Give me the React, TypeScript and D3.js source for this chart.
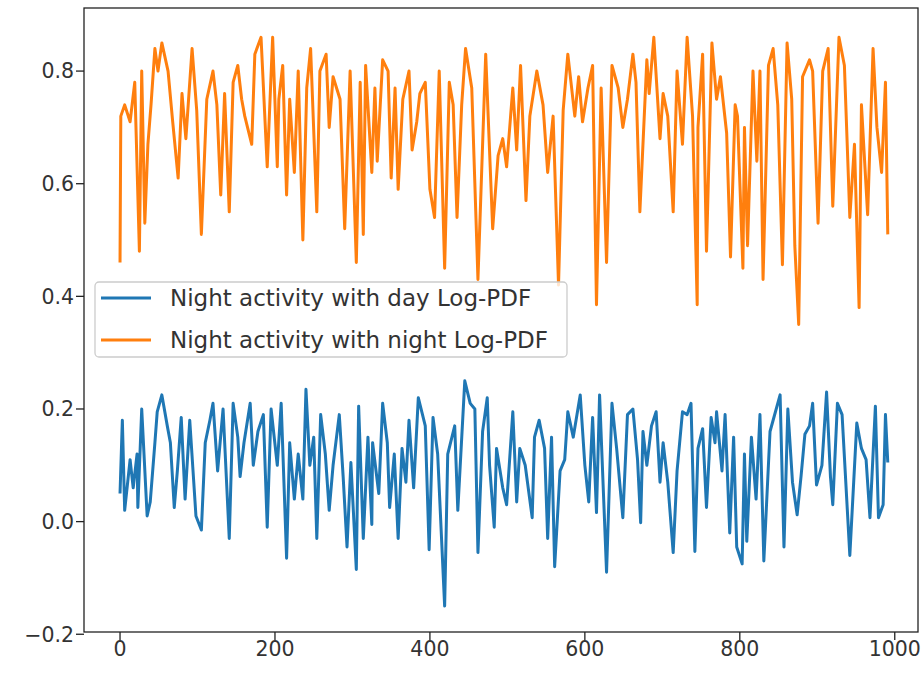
import React from "react";
import * as d3 from "d3";

const dayX = [0,3,6,13,17,22,23,28,35,39,45,48,54,61,65,70,74,79,84,90,98,105,110,116,120,126,133,141,146,152,155,160,168,172,178,185,190,195,203,208,215,219,225,230,236,240,245,250,254,259,265,270,275,283,288,293,298,305,308,314,320,325,326,334,339,345,348,354,359,364,369,373,379,385,394,399,404,410,419,423,432,436,445,452,458,462,468,474,477,483,486,494,499,507,512,516,523,532,535,541,548,552,557,561,568,574,578,585,594,600,605,610,615,619,628,635,641,649,655,662,668,672,675,680,686,692,697,701,707,714,719,726,732,737,742,746,752,757,763,768,770,777,781,787,792,796,803,806,809,815,821,826,831,839,843,852,857,862,868,874,879,884,890,894,899,906,912,917,920,926,932,942,951,957,963,968,975,979,985,988,991];
const dayY = [0.05,0.18,0.02,0.11,0.06,0.12,0.025,0.2,0.01,0.035,0.14,0.195,0.225,0.17,0.14,0.025,0.09,0.185,0.04,0.18,0.01,-0.015,0.14,0.18,0.21,0.09,0.2,-0.03,0.21,0.15,0.08,0.14,0.21,0.1,0.16,0.19,-0.01,0.2,0.1,0.21,-0.065,0.14,0.04,0.12,0.04,0.235,0.1,0.15,-0.03,0.19,0.12,0.02,0.1,0.19,0.08,-0.045,0.105,-0.085,0.205,-0.03,0.15,-0.005,0.14,0.05,0.21,0.14,0.025,0.12,-0.03,0.13,0.07,0.18,0.06,0.22,0.17,-0.05,0.185,0.12,-0.15,0.12,0.17,0.02,0.25,0.21,0.2,-0.055,0.16,0.22,0.1,-0.01,0.13,0.06,0.03,0.195,0.035,0.13,0.1,0.007,0.15,0.18,0.13,-0.03,0.15,-0.08,0.09,0.11,0.195,0.15,0.225,0.1,0.035,0.185,0.016,0.225,-0.09,0.21,0.13,0.007,0.19,0.2,0.11,-0.002,0.16,0.1,0.17,0.195,0.07,0.14,0.07,-0.055,0.09,0.195,0.19,0.21,-0.053,0.13,0.165,0.025,0.185,0.14,0.195,0.09,0.19,-0.02,0.15,-0.045,-0.075,0.12,-0.035,0.15,0.04,0.19,-0.07,0.16,0.18,0.225,-0.045,0.2,0.07,0.012,0.08,0.155,0.17,0.21,0.065,0.1,0.23,0.08,0.03,0.21,0.19,-0.06,0.175,0.13,0.11,0.007,0.205,0.007,0.03,0.19,0.105];

const nightX = [0,1,6,13,19,25,28,32,36,40,45,49,54,62,68,75,80,85,93,99,105,112,120,125,130,135,141,146,152,157,161,170,174,182,190,197,203,205,210,215,219,225,230,236,241,246,254,258,266,270,275,284,290,297,305,310,314,317,325,329,332,339,346,350,355,359,365,373,377,383,387,394,400,406,412,419,425,430,435,441,446,454,462,472,481,488,494,499,507,512,517,524,529,538,546,552,559,566,572,578,587,592,597,604,610,615,621,628,635,643,649,655,662,666,671,680,683,689,697,701,707,714,719,726,732,739,745,746,752,757,764,770,775,783,788,794,797,804,806,810,817,822,826,830,837,843,849,855,861,867,871,876,881,890,894,901,907,914,920,928,935,942,948,954,957,965,972,977,983,988,991];
const nightY = [0.46,0.72,0.74,0.71,0.78,0.48,0.8,0.53,0.67,0.74,0.84,0.8,0.85,0.8,0.71,0.61,0.76,0.68,0.84,0.73,0.51,0.75,0.8,0.74,0.58,0.76,0.55,0.78,0.81,0.75,0.72,0.67,0.83,0.86,0.63,0.86,0.63,0.75,0.81,0.58,0.75,0.62,0.8,0.5,0.77,0.84,0.55,0.8,0.83,0.7,0.79,0.75,0.52,0.8,0.46,0.78,0.51,0.81,0.62,0.77,0.64,0.82,0.8,0.61,0.77,0.59,0.75,0.8,0.66,0.71,0.76,0.78,0.59,0.54,0.8,0.45,0.78,0.74,0.54,0.74,0.84,0.77,0.43,0.83,0.52,0.65,0.68,0.63,0.77,0.66,0.81,0.57,0.72,0.8,0.74,0.62,0.72,0.42,0.73,0.83,0.72,0.79,0.71,0.77,0.81,0.385,0.77,0.46,0.81,0.77,0.7,0.75,0.83,0.78,0.55,0.82,0.76,0.86,0.68,0.76,0.72,0.55,0.8,0.67,0.86,0.72,0.385,0.7,0.83,0.48,0.85,0.75,0.79,0.69,0.47,0.74,0.72,0.45,0.7,0.49,0.8,0.64,0.8,0.43,0.81,0.84,0.74,0.456,0.85,0.75,0.49,0.35,0.79,0.82,0.8,0.53,0.8,0.84,0.56,0.86,0.81,0.54,0.67,0.38,0.74,0.545,0.84,0.7,0.62,0.78,0.51];

const xTicks = [0, 200, 400, 600, 800, 1000];
const yTicks = [-0.2, 0.0, 0.2, 0.4, 0.6, 0.8];
const seriesNames = ["Night activity with day Log-PDF", "Night activity with night Log-PDF"];
const colors = ["#1f77b4", "#ff7f0e"];

export default function App() {
  const W = 921, H = 677;
  const left = 84, right = 918, top = 8, bottom = 632;
  const x = d3.scaleLinear().domain([-46.5, 1030]).range([left, right]);
  const y = d3.scaleLinear().domain([-0.196, 0.912]).range([bottom, top]);
  const line = d3.line<[number, number]>().x(d => x(d[0])).y(d => y(d[1]));
  const dayPts = dayX.map((v, i) => [v, dayY[i]] as [number, number]);
  const nightPts = nightX.map((v, i) => [v, nightY[i]] as [number, number]);
  const font = "DejaVu Sans, sans-serif";
  const fs = 20.5;
  const lfs = 23;
  const fmt = (v: number) => (v < 0 ? "\u2212" : "") + Math.abs(v).toFixed(1);
  const legX = 95, legY = 282, legW = 472, legH = 75;
  return (
    <svg width={W} height={H} style={{ position: "absolute", left: 0, top: 0, background: "#fff" }}>
      <rect x={0} y={0} width={W} height={H} fill="#fff" />
      <defs>
        <clipPath id="plotclip"><rect x={left} y={top} width={right - left} height={bottom - top} /></clipPath>
      </defs>
      <g clipPath="url(#plotclip)">
        <path d={line(dayPts) || ""} fill="none" stroke={colors[0]} strokeWidth={3} strokeLinejoin="round" />
        <path d={line(nightPts) || ""} fill="none" stroke={colors[1]} strokeWidth={3} strokeLinejoin="round" />
      </g>
      <rect x={left} y={top} width={right - left} height={bottom - top} fill="none" stroke="#222" strokeWidth={1.3} />
      {yTicks.map(t => (
        <g key={"y" + t}>
          <line x1={left - 8} x2={left} y1={y(t)} y2={y(t)} stroke="#222" strokeWidth={1.3} />
          <text x={left - 10} y={y(t)} dy="0.36em" textAnchor="end" fontFamily={font} fontSize={fs} fill="#333">{fmt(t)}</text>
        </g>
      ))}
      {xTicks.map(t => (
        <g key={"x" + t}>
          <line x1={x(t)} x2={x(t)} y1={bottom} y2={bottom + 8} stroke="#222" strokeWidth={1.3} />
          <text x={x(t)} y={bottom + 8} dy="0.76em" textAnchor="middle" fontFamily={font} fontSize={fs} fill="#333">{t}</text>
        </g>
      ))}
      <g>
        <rect x={legX} y={legY} width={legW} height={legH} rx={4} fill="#fff" fillOpacity={0.8} stroke="#ccc" strokeWidth={1.3} />
        {seriesNames.map((n, i) => (
          <g key={n}>
            <line x1={legX + 6} x2={legX + 56} y1={legY + 16 + i * 42} y2={legY + 16 + i * 42} stroke={colors[i]} strokeWidth={3} />
            <text x={legX + 75} y={legY + 16 + i * 42} dy="0.36em" fontFamily={font} fontSize={lfs} fill="#333">{n}</text>
          </g>
        ))}
      </g>
    </svg>
  );
}
